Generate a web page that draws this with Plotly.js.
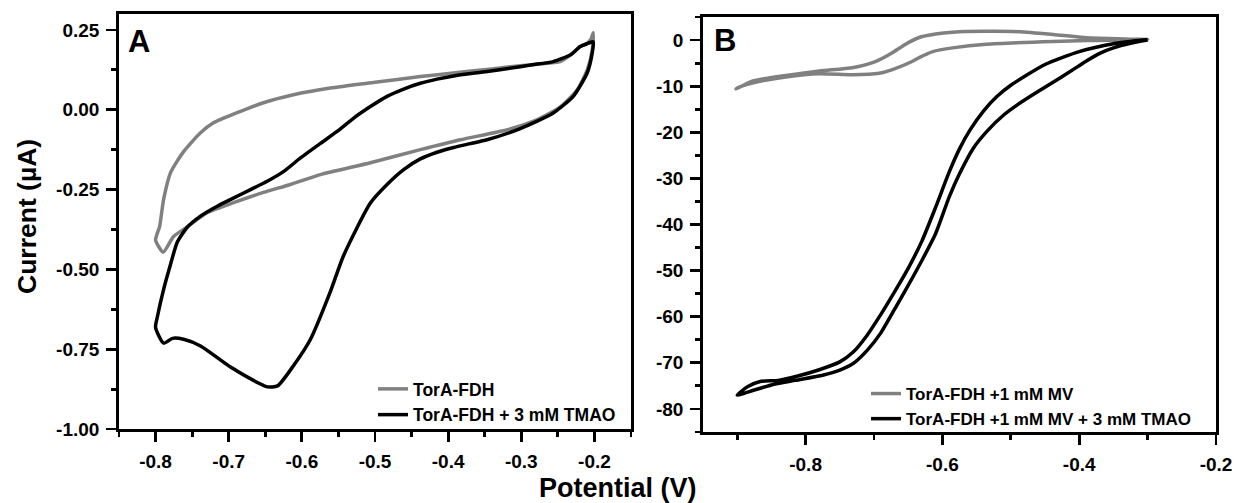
<!DOCTYPE html>
<html>
<head>
<meta charset="utf-8">
<script src="https://cdn.plot.ly/plotly-3.0.1.min.js"></script>
<style>html,body{margin:0;padding:0;background:#fff;}#chart{width:1235px;height:503px;}</style>
</head>
<body>
<div id="chart"></div>
<script>
// Panel A: TorA-FDH (gray) and TorA-FDH + 3 mM TMAO (black)
const aGrayX = [-0.2016,-0.205,-0.2098,-0.2194,-0.2326,-0.2467,-0.2645,-0.2850,-0.3014,-0.3400,-0.3900,-0.438,-0.50,-0.561,-0.6115,-0.6525,-0.6839,-0.7208,-0.7385,-0.7617,-0.7795,-0.789,-0.7945,-0.800,-0.7895,-0.7754,-0.7563,-0.729,-0.6934,-0.6525,-0.6156,-0.5746,-0.5063,-0.438,-0.3833,-0.3191,-0.2781,-0.2467,-0.2235,-0.2098,-0.203,-0.2016];
const aGrayY = [0.241,0.220,0.209,0.198,0.172,0.151,0.146,0.141,0.138,0.128,0.116,0.104,0.086,0.068,0.047,0.022,-0.005,-0.041,-0.072,-0.131,-0.197,-0.281,-0.366,-0.408,-0.446,-0.397,-0.366,-0.322,-0.291,-0.259,-0.234,-0.203,-0.166,-0.125,-0.094,-0.0625,-0.031,0.009,0.0625,0.125,0.1875,0.241];
const aBlackX = [-0.2016,-0.2098,-0.2194,-0.2326,-0.2563,-0.2850,-0.3014,-0.3464,-0.3925,-0.4152,-0.438,-0.4608,-0.4835,-0.5063,-0.5291,-0.5518,-0.5750,-0.6019,-0.6247,-0.6474,-0.6702,-0.693,-0.7157,-0.7385,-0.7567,-0.7704,-0.7795,-0.789,-0.7973,-0.800,-0.789,-0.7768,-0.7617,-0.7385,-0.6975,-0.6566,-0.647,-0.6333,-0.6115,-0.5882,-0.5609,-0.5432,-0.5063,-0.4835,-0.4608,-0.438,-0.4152,-0.3925,-0.3697,-0.3469,-0.3014,-0.2563,-0.229,-0.2098,-0.203,-0.2016];
const aBlackY = [0.213,0.207,0.198,0.172,0.151,0.141,0.135,0.120,0.106,0.096,0.083,0.065,0.042,0.010,-0.026,-0.068,-0.106,-0.151,-0.193,-0.224,-0.250,-0.276,-0.302,-0.333,-0.368,-0.415,-0.484,-0.5625,-0.646,-0.682,-0.731,-0.716,-0.719,-0.740,-0.806,-0.859,-0.868,-0.865,-0.802,-0.719,-0.569,-0.458,-0.292,-0.234,-0.1875,-0.154,-0.133,-0.118,-0.106,-0.094,-0.059,-0.010,0.042,0.116,0.178,0.213];

// Panel B: TorA-FDH +1 mM MV (gray) and + 3 mM TMAO (black)
const bGrayX = [-0.9018,-0.878,-0.829,-0.780,-0.7316,-0.70,-0.675,-0.655,-0.635,-0.61,-0.585,-0.536,-0.487,-0.438,-0.389,-0.30,-0.389,-0.438,-0.536,-0.585,-0.614,-0.634,-0.6436,-0.673,-0.6925,-0.7316,-0.78,-0.829,-0.878,-0.90,-0.9018];
const bGrayY = [-10.6,-8.9,-7.7,-6.7,-6.0,-4.8,-2.9,-1.0,0.5,1.3,1.7,1.9,1.8,1.2,0.5,0.1,-0.1,-0.3,-0.9,-1.7,-2.5,-3.8,-4.6,-6.4,-7.2,-7.5,-7.3,-8.0,-9.3,-10.4,-10.6];
const bBlackX = [-0.30,-0.35,-0.40,-0.45,-0.50,-0.52,-0.54,-0.56,-0.575,-0.59,-0.61,-0.63,-0.65,-0.67,-0.69,-0.71,-0.73,-0.75,-0.78,-0.81,-0.84,-0.865,-0.885,-0.90,-0.875,-0.85,-0.815,-0.775,-0.75,-0.73,-0.71,-0.69,-0.67,-0.65,-0.63,-0.61,-0.59,-0.575,-0.555,-0.535,-0.51,-0.49,-0.465,-0.44,-0.415,-0.39,-0.37,-0.35,-0.325,-0.30];
const bBlackY = [0.1,-0.8,-2.5,-5.3,-9.8,-12.2,-15.4,-19.6,-23.6,-28.6,-36.3,-43.6,-49.5,-54.6,-59.5,-64.0,-67.6,-69.8,-71.5,-72.8,-73.8,-74.0,-75.2,-77.0,-75.9,-74.8,-73.8,-72.7,-71.6,-70.1,-67.3,-63.5,-58.4,-53.2,-47.8,-42.0,-34.0,-29.0,-23.5,-19.8,-16.2,-14.0,-11.6,-9.3,-7.0,-4.6,-2.9,-1.7,-0.7,0.0];

// Tick labels
const aXTicks = [-0.8,-0.7,-0.6,-0.5,-0.4,-0.3,-0.2];
const aXLabels = ["-0.8","-0.7","-0.6","-0.5","-0.4","-0.3","-0.2"];
const aYTicks = [0.25,0.0,-0.25,-0.5,-0.75,-1.0];
const aYLabels = ["0.25","0.00","-0.25","-0.50","-0.75","-1.00"];
const bXTicks = [-0.8,-0.6,-0.4,-0.2];
const bXLabels = ["-0.8","-0.6","-0.4","-0.2"];
const bYTicks = [0,-10,-20,-30,-40,-50,-60,-70,-80];
const bYLabels = ["0","-10","-20","-30","-40","-50","-60","-70","-80"];

const seriesNames = ["TorA-FDH","TorA-FDH + 3 mM TMAO","TorA-FDH +1 mM MV","TorA-FDH +1 mM MV + 3 mM TMAO"];

const FONT = "Liberation Sans, Arial, sans-serif";
const GRAY = "#808080";
const W = 1235, H = 503;
const px = v => v / W, py = v => 1 - v / H;
const bold = arr => arr.map(s => "<b>" + s + "</b>");

const lineStyle = c => ({color:c, width:3.5, shape:"spline", smoothing:0.6});
const traces = [
  {x:aGrayX, y:aGrayY, name:"<b>"+seriesNames[0]+"</b>", mode:"lines", line:lineStyle(GRAY), xaxis:"x", yaxis:"y", legend:"legend"},
  {x:aBlackX, y:aBlackY, name:"<b>"+seriesNames[1]+"</b>", mode:"lines", line:lineStyle("#000"), xaxis:"x", yaxis:"y", legend:"legend"},
  {x:bGrayX, y:bGrayY, name:"<b>"+seriesNames[2]+"</b>", mode:"lines", line:lineStyle(GRAY), xaxis:"x2", yaxis:"y2", legend:"legend2"},
  {x:bBlackX, y:bBlackY, name:"<b>"+seriesNames[3]+"</b>", mode:"lines", line:lineStyle("#000"), xaxis:"x2", yaxis:"y2", legend:"legend2"}
];

const tickFont = {family:FONT, size:19, color:"#000", weight:700};
function ax(extra) {
  return Object.assign({
    showgrid:false, zeroline:false, showline:true, linecolor:"#000", linewidth:2.8, mirror:true,
    ticks:"outside", ticklen:10, tickwidth:2.8, tickcolor:"#000", tickfont:tickFont,
    tickmode:"array", ticklabelstandoff:3, fixedrange:true
  }, extra);
}
const minor = d => ({dtick:d, tick0:0, ticks:"outside", ticklen:5, tickwidth:2.8, tickcolor:"#000"});

const layout = {
  width:W, height:H, margin:{l:0,r:0,t:0,b:0},
  paper_bgcolor:"#fff", plot_bgcolor:"#fff",
  showlegend:true,
  xaxis: ax({domain:[px(119),px(631)], range:[-0.85,-0.15], anchor:"y", tickvals:aXTicks, ticktext:bold(aXLabels), minor:minor(0.05)}),
  yaxis: ax({domain:[py(429),py(14)], range:[-1.0,0.30], anchor:"x", tickvals:aYTicks, ticktext:bold(aYLabels), minor:minor(0.125)}),
  xaxis2: ax({domain:[px(703),px(1216)], range:[-0.95,-0.2], anchor:"y2", tickvals:bXTicks, ticktext:bold(bXLabels), minor:minor(0.1)}),
  yaxis2: ax({domain:[py(432),py(17)], range:[-85,5], anchor:"x2", tickvals:bYTicks, ticktext:bold(bYLabels), minor:minor(5)}),
  legend: {x:px(373), y:py(371), xanchor:"left", yanchor:"top", bgcolor:"rgba(0,0,0,0)", borderwidth:0,
           font:{family:FONT, size:17.5, color:"#000", weight:700}, tracegroupgap:0},
  legend2: {x:px(866), y:py(376), xanchor:"left", yanchor:"top", bgcolor:"rgba(0,0,0,0)", borderwidth:0,
           font:{family:FONT, size:17, color:"#000", weight:700}, tracegroupgap:0},
  annotations: [
    {text:"<b>A</b>", xref:"paper", yref:"paper", x:px(126), y:py(41), xanchor:"left", yanchor:"middle", showarrow:false,
     font:{family:FONT, size:31, color:"#000"}},
    {text:"<b>B</b>", xref:"paper", yref:"paper", x:px(712), y:py(40), xanchor:"left", yanchor:"middle", showarrow:false,
     font:{family:FONT, size:31, color:"#000"}},
    {text:"<b>Current (µA)</b>", xref:"paper", yref:"paper", x:px(27), y:py(217), xanchor:"center", yanchor:"middle", textangle:-90, showarrow:false,
     font:{family:FONT, size:26.5, color:"#000"}},
    {text:"<b>Potential (V)</b>", xref:"paper", yref:"paper", x:px(618), y:py(488), xanchor:"center", yanchor:"middle", showarrow:false,
     font:{family:FONT, size:27, color:"#000"}}
  ]
};

Plotly.newPlot("chart", traces, layout, {displayModeBar:false, staticPlot:true});
</script>
</body>
</html>
